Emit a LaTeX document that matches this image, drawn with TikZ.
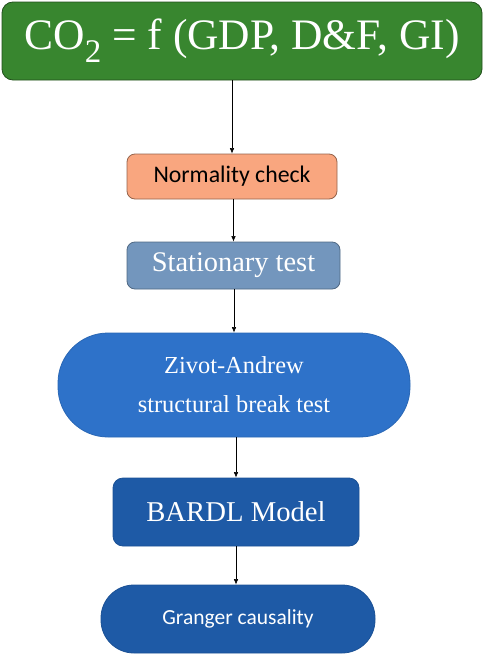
\documentclass[tikz,border=0pt]{standalone}
\usepackage{fontspec}
\setmainfont{Liberation Serif}
\newfontfamily\calibri{Carlito}
\usepackage{tikz}
\usetikzlibrary{arrows.meta}

\definecolor{eqgreen}{HTML}{38862F}
\definecolor{normorange}{HTML}{F9A67F}
\definecolor{statblue}{HTML}{7396BD}
\definecolor{zablue}{HTML}{2E72C9}
\definecolor{deepblue}{HTML}{1E5AA6}

\begin{document}
\begin{tikzpicture}[x=1pt,y=-1pt,
  every node/.style={inner sep=2pt},
  stepbox/.style={draw,line width=.8pt,rounded corners=8pt,align=center},
  link/.style={-{Latex[length=5.5pt,width=4.5pt]},line width=.6pt}]
\useasboundingbox (0,0) rectangle (484,656);
\node[stepbox,fill=eqgreen,draw=eqgreen!60!black,rounded corners=11pt,
  minimum width=480pt,minimum height=78pt,text=white,
  font=\fontsize{43.5}{46}\selectfont] (eq) at (242,41)
  {CO\raisebox{-.3em}{\fontsize{33}{33}\selectfont 2} = f (GDP, D\&F, GI)};
\node[stepbox,fill=normorange,draw=normorange!60!black,
  minimum width=210pt,minimum height=45pt,
  font=\calibri\fontsize{23.8}{25}\selectfont] (norm) at (232,176.5) {Normality check};
\node[stepbox,fill=statblue,draw=statblue!70!black,
  minimum width=213pt,minimum height=47pt,text=white,
  font=\fontsize{28.4}{30}\selectfont] (stat) at (233.5,265.5) {Stationary test};
\node[stepbox,fill=zablue,draw=zablue!90!black,rounded corners=50pt,
  minimum width=352pt,minimum height=104pt,text=white,
  font=\fontsize{24.4}{26}\selectfont] (za) at (234,385)
  {Zivot-Andrew\\[13pt]structural break test};
\node[stepbox,fill=deepblue,draw=deepblue!90!black,rounded corners=10pt,
  minimum width=246pt,minimum height=68pt,text=white,
  font=\fontsize{28.7}{31}\selectfont] (bardl) at (236,512) {BARDL Model};
\node[stepbox,fill=deepblue,draw=deepblue!90!black,rounded corners=33pt,
  minimum width=274pt,minimum height=68pt,text=white,
  font=\calibri\fontsize{21.5}{23}\selectfont] (gc) at (238,619) {Granger causality};
\draw[link] (eq.south -| norm.north) -- (norm.north);
\draw[link] (norm.south -| stat.north) -- (stat.north);
\draw[link] (stat.south -| za.north) -- (za.north);
\draw[link] (za.south -| bardl.north) -- (bardl.north);
\draw[link] (bardl.south) -- (bardl.south |- gc.north);
\end{tikzpicture}
\end{document}
